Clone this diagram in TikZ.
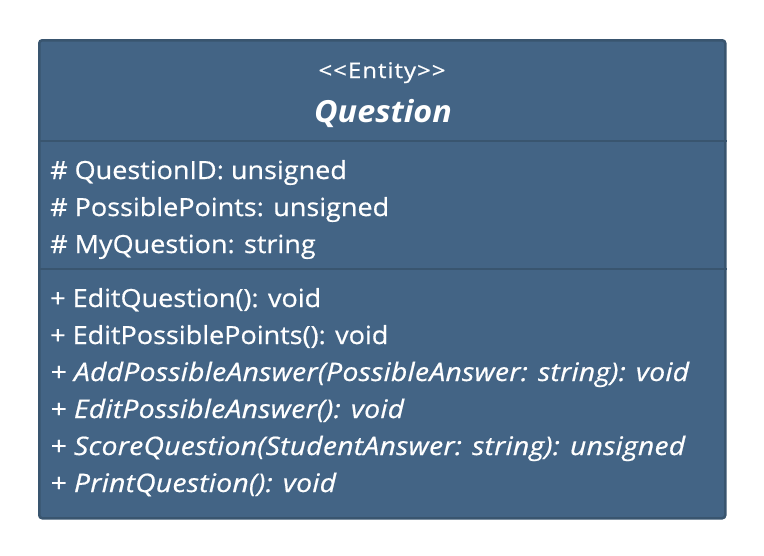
\documentclass[tikz,border=0pt]{standalone}
\usepackage{fontspec}
\setmainfont[FakeStretch=1.08,FakeBold=0.6]{Open Sans}
\newfontfamily\itfam[FakeStretch=1.11,LetterSpace=1.0,FakeBold=0.6]{Open Sans}
\newfontfamily\stfam[FakeStretch=1.12,LetterSpace=4.5,FakeBold=0.6]{Open Sans}
\newfontfamily\bifam[FakeStretch=1.06]{Open Sans}
\definecolor{boxfill}{HTML}{436485}
\definecolor{boxline}{HTML}{39556F}
\begin{document}
\begin{tikzpicture}[x=1pt,y=-1pt,
  attr/.style={anchor=base west,text=white,inner sep=0pt,font=\fontsize{25}{30}\selectfont},
  meth/.style={attr},
  imeth/.style={attr,font=\itfam\itshape\fontsize{25.5}{30}\selectfont},
  sep/.style={draw=boxline,line width=2.5pt}]
\useasboundingbox (0,0) rectangle (764,555);
\node[draw=boxline,fill=boxfill,line width=2.5pt,rounded corners=3pt,minimum width=686pt,minimum height=478pt,anchor=north west,inner sep=0pt] (box) at (38,39) {};
\draw[sep] (box.west |- 0,141) coordinate (s1a) -- (box.east |- 0,141) coordinate (s1b);
\draw[sep] (box.west |- 0,269) coordinate (s2a) -- (box.east |- 0,269) coordinate (s2b);
\node[anchor=base,text=white,inner sep=0pt,font=\stfam\fontsize{21.5}{26}\selectfont] (st) at (382,78) {<{}<Entity>{}>};
\node[anchor=base,text=white,inner sep=0pt,font=\bifam\fontsize{30.5}{36}\selectfont\bfseries\itshape] (nm) at (383,122) {Question};
\node[attr] (a1) at (50,179) {\# QuestionID: unsigned};
\node[attr] (a2) at (50,216) {\# PossiblePoints: unsigned};
\node[attr] (a3) at (50,253) {\# MyQuestion: string};
\node[meth] (m1) at (50,307) {+ EditQuestion(): void};
\node[meth] (m2) at (50,344) {+ EditPossiblePoints(): void};
\node[imeth] (m3) at (50,381) {+ AddPossibleAnswer(PossibleAnswer: string): void};
\node[imeth] (m4) at (50,418) {+ EditPossibleAnswer(): void};
\node[imeth] (m5) at (50,455) {+ ScoreQuestion(StudentAnswer: string): unsigned};
\node[imeth] (m6) at (50,492) {+ PrintQuestion(): void};
\end{tikzpicture}
\end{document}
